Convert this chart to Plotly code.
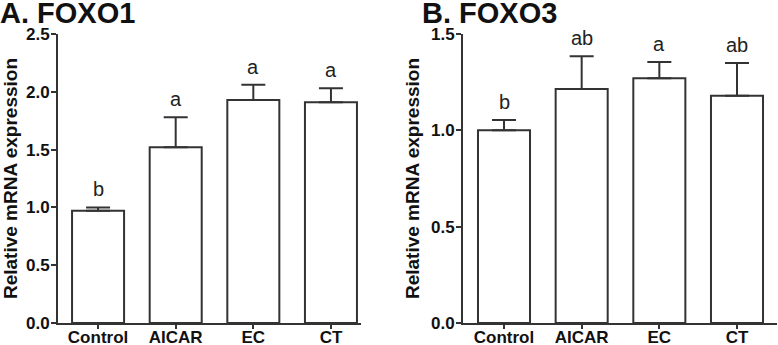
import plotly.graph_objects as go

categories = ["Control", "AICAR", "EC", "CT"]
foxo1_mean = [0.97, 1.52, 1.93, 1.91]
foxo1_err = [0.03, 0.26, 0.13, 0.12]
foxo1_letters = ["b", "a", "a", "a"]
foxo3_mean = [1.00, 1.215, 1.27, 1.18]
foxo3_err = [0.053, 0.17, 0.085, 0.17]
foxo3_letters = ["b", "ab", "a", "ab"]

line_col = "#333333"
font_fam = "Liberation Sans, Arial, sans-serif"

fig = go.Figure()
for i, (m, e) in enumerate([(foxo1_mean, foxo1_err), (foxo3_mean, foxo3_err)]):
    xa = "x" if i == 0 else "x2"
    ya = "y" if i == 0 else "y2"
    fig.add_trace(go.Bar(
        x=categories, y=m, xaxis=xa, yaxis=ya, width=0.67,
        marker=dict(color="white", line=dict(color=line_col, width=2)),
        error_y=dict(type="data", array=e, symmetric=False, arrayminus=[0]*4,
                     color=line_col, thickness=2, width=12),
        showlegend=False, hoverinfo="skip"))

for i, (m, e, lets) in enumerate([(foxo1_mean, foxo1_err, foxo1_letters),
                                  (foxo3_mean, foxo3_err, foxo3_letters)]):
    for c, mv, ev, l in zip(categories, m, e, lets):
        fig.add_annotation(x=c, y=mv + ev, xref="x" if i == 0 else "x2",
                           yref="y" if i == 0 else "y2", text=l, showarrow=False,
                           yanchor="bottom", yshift=5,
                           font=dict(family=font_fam, size=20, color="#222"))

fig.add_annotation(x=0, y=1, xref="paper", yref="paper", xanchor="left", yanchor="top",
                   text="<b>A. FOXO1</b>", showarrow=False, yshift=39, xshift=-2,
                   font=dict(family=font_fam, size=29, color="#111"))
fig.add_annotation(x=420/778, y=1, xref="paper", yref="paper", xanchor="left", yanchor="top",
                   text="<b>B. FOXO3</b>", showarrow=False, yshift=39,
                   font=dict(family=font_fam, size=29, color="#111"))

axis_common = dict(showline=True, linecolor=line_col, linewidth=2, ticks="outside",
                   tickcolor=line_col, tickwidth=2, showgrid=False, zeroline=False,
                   automargin=False,
                   tickfont=dict(family=font_fam, size=17, color="#111"))

ytitle = dict(text="<b>Relative mRNA expression</b>", standoff=6,
              font=dict(family=font_fam, size=19, color="#111"))

fig.update_layout(
    width=778, height=345, margin=dict(l=0, r=0, t=34, b=22),
    plot_bgcolor="white", paper_bgcolor="white",
    xaxis=dict(domain=[58/778, 361/778], range=[-0.516, 3.387], ticklen=4,
               ticklabelstandoff=-6,
               tickprefix="<b>", ticksuffix="</b>", anchor="y", **axis_common),
    yaxis=dict(domain=[0, 1], range=[0, 2.5], dtick=0.5, tickformat=".1f",
               ticklen=5, ticklabelstandoff=-2, anchor="x",
               tickprefix="<b>", ticksuffix="</b>",
               title=ytitle, **axis_common),
    xaxis2=dict(domain=[463/778, 777/778], range=[-0.528, 3.515], ticklen=4,
                ticklabelstandoff=-6,
                tickprefix="<b>", ticksuffix="</b>", anchor="y2", **axis_common),
    yaxis2=dict(domain=[0, 1], range=[0, 1.5], dtick=0.5, tickformat=".1f",
                ticklen=5, ticklabelstandoff=-2, anchor="x2",
                tickprefix="<b>", ticksuffix="</b>",
                title=ytitle, **axis_common),
)

fig.write_html("out.html", post_script="document.body.style.margin='0';",
               config={"displayModeBar": False})
